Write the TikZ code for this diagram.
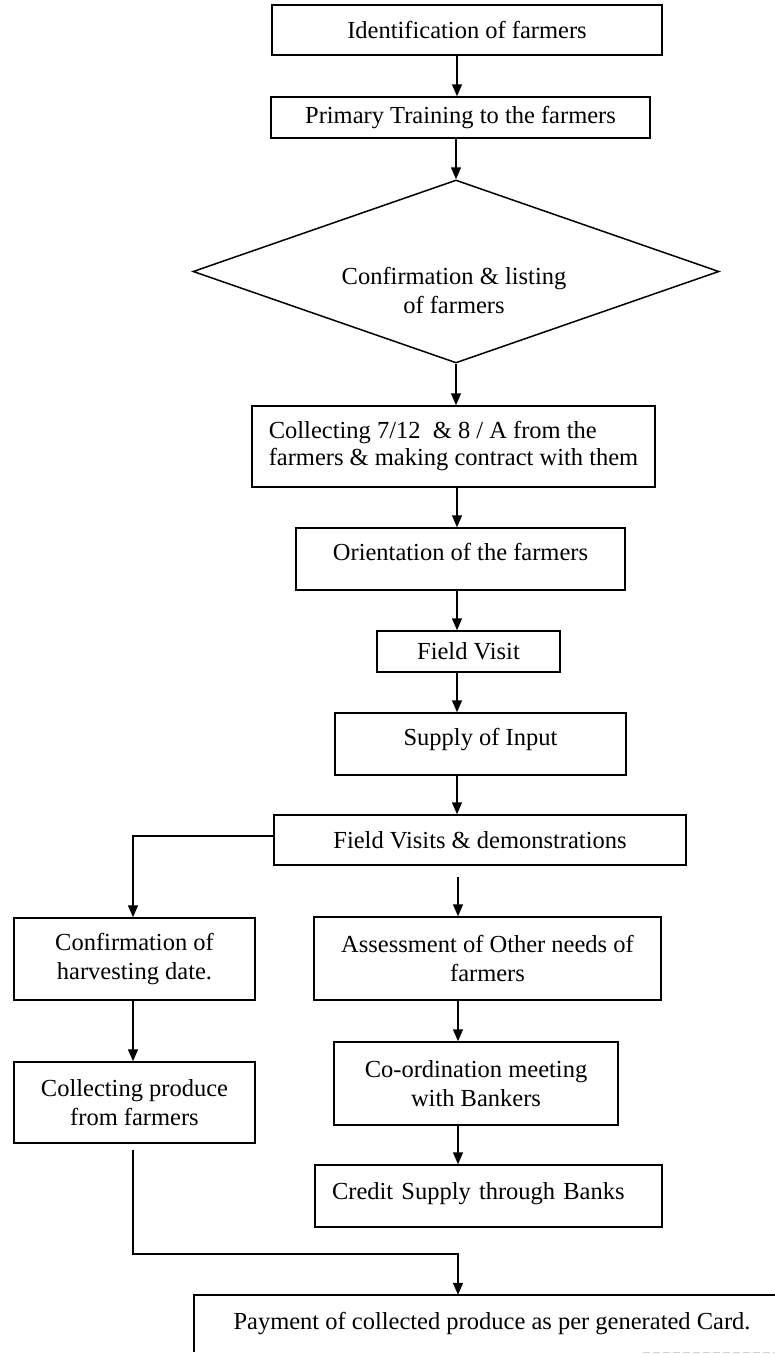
\documentclass[tikz,border=0pt]{standalone}
\usepackage{fontspec}
\setmainfont{Liberation Serif}
\usetikzlibrary{shapes.geometric,arrows.meta,calc}
\begin{document}
\begin{tikzpicture}[x=1pt,y=-1pt,
  every node/.style={font=\fontsize{24.5}{29}\selectfont},
  box/.style={draw, line width=1.5pt, inner sep=0pt, align=center},
  arr/.style={line width=1.5pt, -{Triangle[length=12pt,width=10pt]}},
  conn/.style={line width=1.5pt},
  faint/.style={draw=gray!35, line width=1pt, dash pattern=on 7pt off 3pt}]
\fill[white] (0,0) rectangle (775,1354);
\useasboundingbox (0,0) rectangle (775,1354);

\coordinate (ax) at (457,0);
\coordinate (cx) at (133,0);

\node[box, minimum width=390pt, minimum height=50pt] (b1) at (467,30) {Identification of farmers};
\node[box, minimum width=379pt, minimum height=41pt] (b2) at (460.5,117.5) {Primary Training to the farmers};
\node[draw, diamond, line width=1.5pt, inner sep=0pt, minimum width=526pt, minimum height=183pt] (d) at (456,271.5) {};
\node[align=center] (dt) at (454,290) {Confirmation \& listing\\of farmers};
\node[box, align=left, minimum width=403pt, minimum height=81pt, font=\fontsize{24.5}{27}\selectfont] (b3) at (453.5,446.5) {Collecting 7/12~ \& 8 / A from the\\farmers \& making contract with them};
\node[box, minimum width=329pt, minimum height=62pt, text height=17pt, text depth=15pt] (b4) at (460.5,559) {Orientation of the farmers};
\node[box, minimum width=183pt, minimum height=41pt] (fv) at (468.5,651.5) {Field Visit};
\node[box, minimum width=291pt, minimum height=62pt, text height=17pt, text depth=15pt] (su) at (480.5,744) {Supply of Input};
\node[box, minimum width=412pt, minimum height=50pt] (b7) at (480,840) {Field Visits \& demonstrations};
\node[box, minimum width=241pt, minimum height=82pt] (b8) at (134.5,959) {Confirmation of\\harvesting date.};
\node[box, minimum width=347pt, minimum height=83pt] (b9) at (487.5,958.5) {Assessment of Other needs of\\farmers};
\node[box, minimum width=241pt, minimum height=81pt] (b10) at (134.5,1102.5) {Collecting produce\\from farmers};
\node[box, minimum width=284pt, minimum height=83pt] (b11) at (476,1083.5) {Co-ordination meeting\\with Bankers};
\node[box, align=left, text width=313pt, minimum width=347pt, minimum height=62pt, text height=17pt, text depth=11pt] (b12) at (488.5,1196) {Credit Supply through Banks};
\node[inner sep=0pt, minimum width=596pt, minimum height=57pt] (b13) at (492,1323.5) {Payment of collected produce as per generated Card.};
\draw[conn] (b13.south west) -- (b13.north west) -- (b13.north east);
\coordinate (fb) at ($(b13.south east)+(-147,0)$);
\draw[faint] (fb) -- (b13.south east);

\draw[arr] (b1.south -| ax) -- (b2.north -| ax);
\draw[arr] (b2.south -| d.north) -- (d.north);
\draw[arr] (d.south) -- (b3.north -| d.south);
\draw[arr] (b3.south -| ax) -- (b4.north -| ax);
\draw[arr] (b4.south -| ax) -- (fv.north -| ax);
\draw[arr] (fv.south -| ax) -- (su.north -| ax);
\draw[arr] (su.south -| ax) -- (b7.north -| ax);
\draw[arr] ([yshift=4pt]b7.west) -| (b8.north -| cx);
\coordinate (m1) at (458,877);
\draw[arr] (m1) -- (b9.north -| m1);
\draw[arr] (b8.south -| cx) -- (b10.north -| cx);
\draw[arr] (b9.south -| m1) -- (b11.north -| m1);
\draw[arr] (b11.south -| m1) -- (b12.north -| m1);
\coordinate (c1) at (133,1150);
\coordinate (c2) at (458,1254);
\draw[arr] (c1) |- (c2) -- (b13.north -| c2);
\end{tikzpicture}
\end{document}
